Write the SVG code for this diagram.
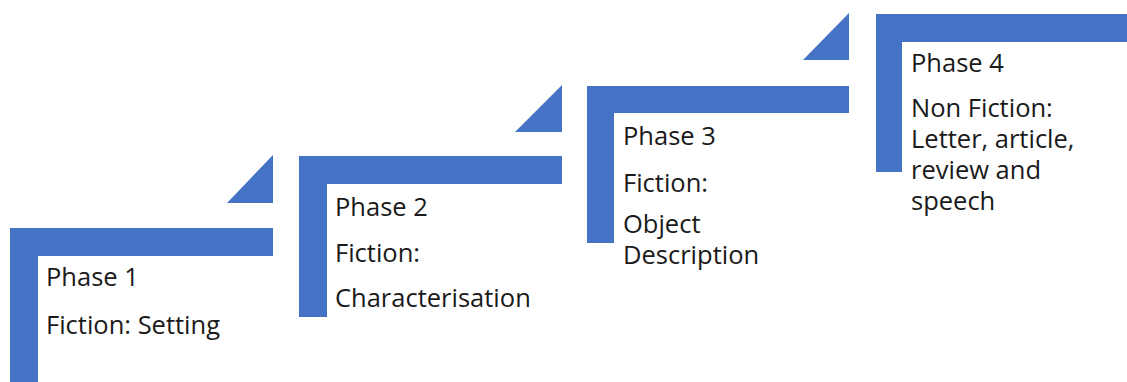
<svg xmlns="http://www.w3.org/2000/svg" width="1127" height="382" viewBox="0 0 1127 382">
<style>
.shape{fill:#4472C4}
.t{font-family:"Open Sans","Noto Sans",sans-serif;font-size:25.5px;fill:#1a1a1a}
</style>
<rect width="1127" height="382" fill="#ffffff"/>
<g id="phase1">
<polygon class="shape" points="10,228 273,228 273,256 38,256 38,382 10,382"/>
<polygon class="shape" points="227,203 273,155 273,203"/>
<text class="t" x="46" y="286">Phase 1</text>
<text class="t" x="46" y="334">Fiction: Setting</text>
</g>
<g id="phase2">
<polygon class="shape" points="299,156 562,156 562,184 327,184 327,317 299,317"/>
<polygon class="shape" points="515,132 562,85 562,132"/>
<text class="t" x="335" y="216">Phase 2</text>
<text class="t" x="335" y="262">Fiction:</text>
<text class="t" x="335" y="307">Characterisation</text>
</g>
<g id="phase3">
<polygon class="shape" points="587,86 849,86 849,113 614,113 614,243 587,243"/>
<polygon class="shape" points="803,60 849,13 849,60"/>
<text class="t" x="623" y="145">Phase 3</text>
<text class="t" x="623" y="192">Fiction:</text>
<text class="t" x="623" y="232.5">Object<tspan x="623" y="264">Description</tspan></text>
</g>
<g id="phase4">
<polygon class="shape" points="876,14 1127,14 1127,42 902,42 902,172 876,172"/>
<text class="t" x="911" y="72">Phase 4</text>
<text class="t" x="911" y="116.5">Non Fiction:<tspan x="911" y="147.5">Letter, article,</tspan><tspan x="911" y="178.5">review and</tspan><tspan x="911" y="209.5">speech</tspan></text>
</g>
<g id="connectors"></g>
</svg>
